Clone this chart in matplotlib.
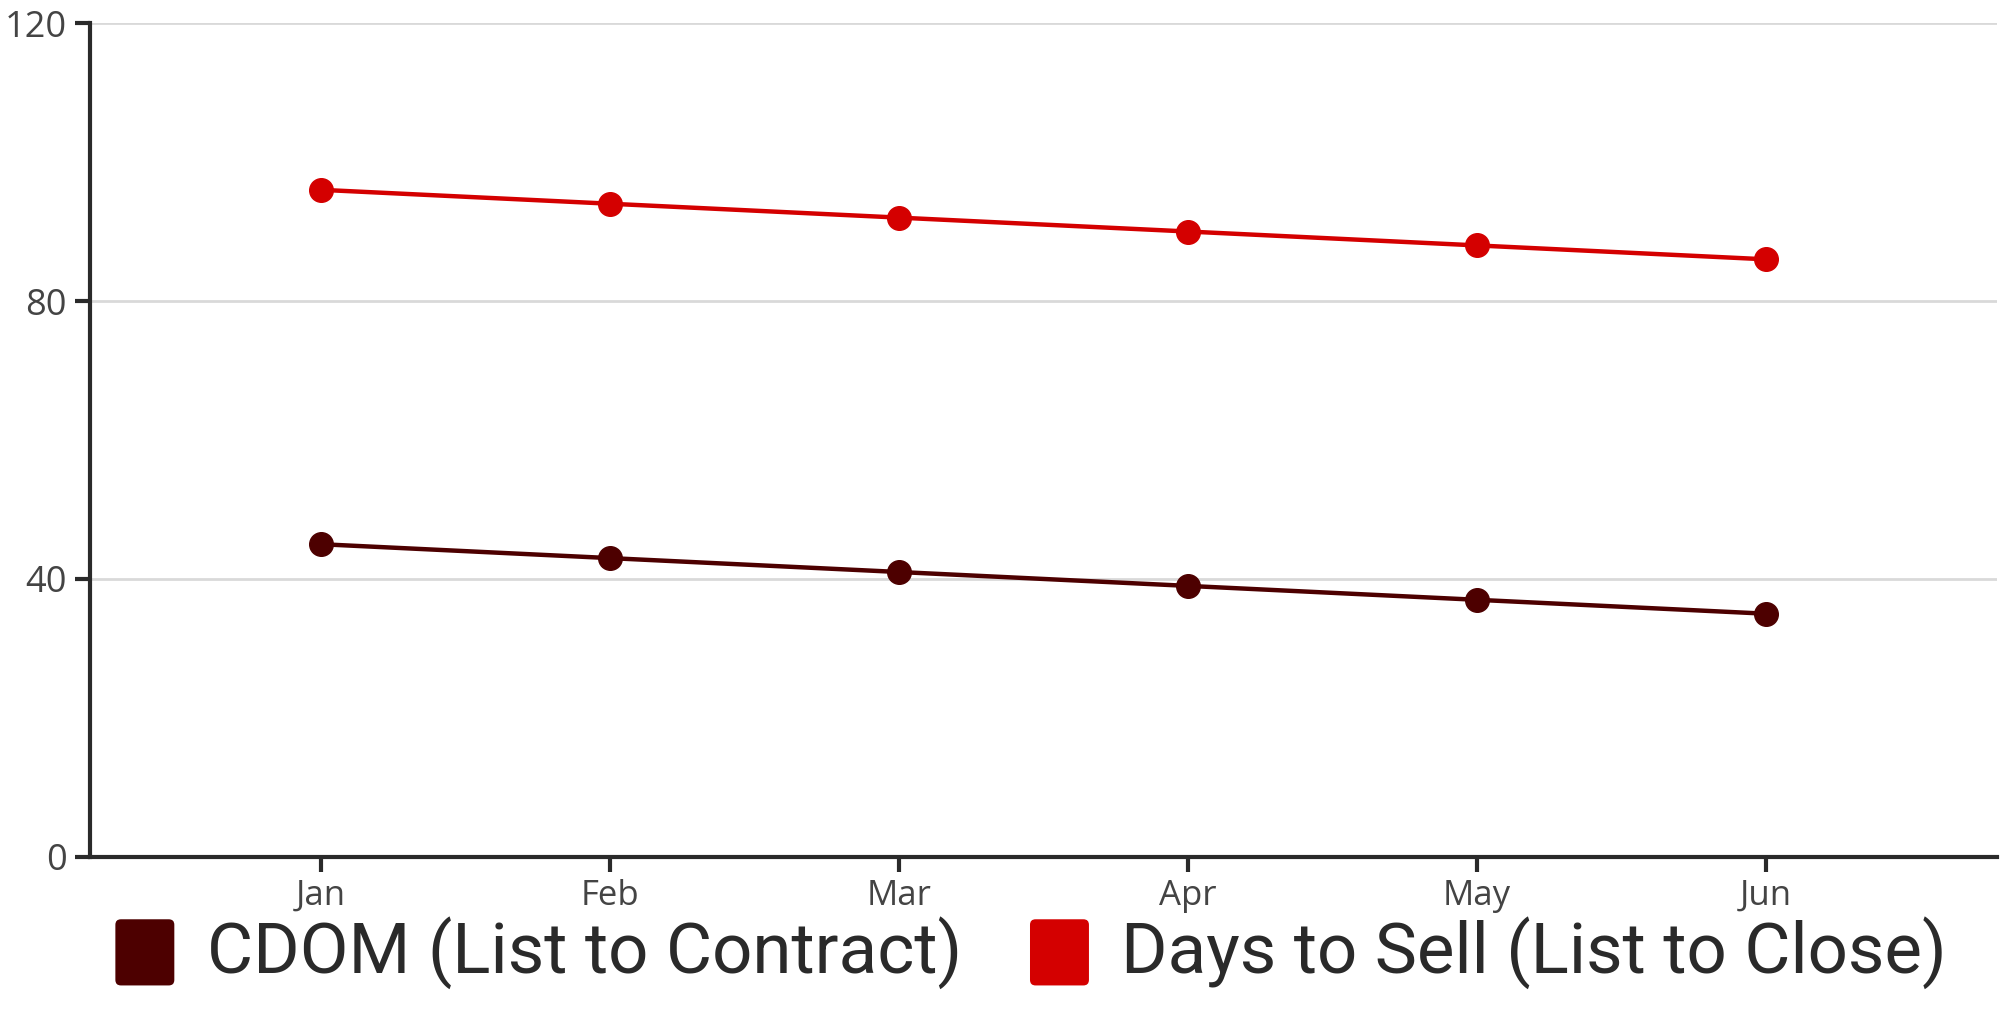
import matplotlib.pyplot as plt
from matplotlib.patches import FancyBboxPatch, Patch
from matplotlib.legend_handler import HandlerPatch

# datos
months = ["Jan", "Feb", "Mar", "Apr", "May", "Jun"]
cdom = [45, 43, 41, 39, 37, 35]
days_to_sell = [96, 94, 92, 90, 88, 86]
y_ticks = [0, 40, 80, 120]

dark_red = "#4d0000"
red = "#d40000"


class RoundSquare(HandlerPatch):
    """cuadro de leyenda con esquinas redondeadas"""
    def create_artists(self, legend, orig_handle, xdescent, ydescent,
                       width, height, fontsize, trans):
        p = FancyBboxPatch((-xdescent + 3, -ydescent - 4), width - 6, height + 2,
                           boxstyle="round,pad=0,rounding_size=4",
                           facecolor=orig_handle.get_facecolor(),
                           edgecolor="none", transform=trans)
        return [p]


fig = plt.figure(figsize=(20, 10.25), dpi=100)
ax = fig.add_axes([0.045, 0.164, 0.9535, 0.8135])

x = range(len(months))
ax.plot(x, cdom, color=dark_red, lw=3.2, marker="o", ms=17, zorder=3)
ax.plot(x, days_to_sell, color=red, lw=3.2, marker="o", ms=17, zorder=3)

ax.set_xlim(-0.8, len(months) - 0.2)
ax.set_ylim(0, 120)
ax.set_yticks(y_ticks)
ax.set_xticks(list(x))
ax.set_xticklabels(months)
ax.grid(axis="y", color="#d9d9d9", lw=2)
ax.set_axisbelow(True)

for s in ["top", "right"]:
    ax.spines[s].set_visible(False)
for s in ["left", "bottom"]:
    ax.spines[s].set_linewidth(3)
    ax.spines[s].set_color("#2a2a2a")

ax.tick_params(axis="both", length=11, width=3, color="#2a2a2a",
               labelcolor="#444444")
ax.tick_params(axis="x", pad=5, labelsize=25)
ax.tick_params(axis="y", pad=6, labelsize=26)
for lbl in ax.get_xticklabels() + ax.get_yticklabels():
    lbl.set_fontfamily("Open Sans")

handles = [Patch(facecolor=dark_red, label="CDOM (List to Contract)"),
           Patch(facecolor=red, label="Days to Sell (List to Close)")]
fig.legend(handles=handles, loc="center", ncol=2, frameon=False,
           bbox_to_anchor=(0.5146, 0.071), prop={"family": "Roboto", "size": 51},
           handler_map={Patch: RoundSquare()}, handlelength=0.95, handleheight=1.0,
           handletextpad=0.4, columnspacing=0.9, labelcolor="#2a2a2a")

fig.savefig("out.png", dpi=100)
